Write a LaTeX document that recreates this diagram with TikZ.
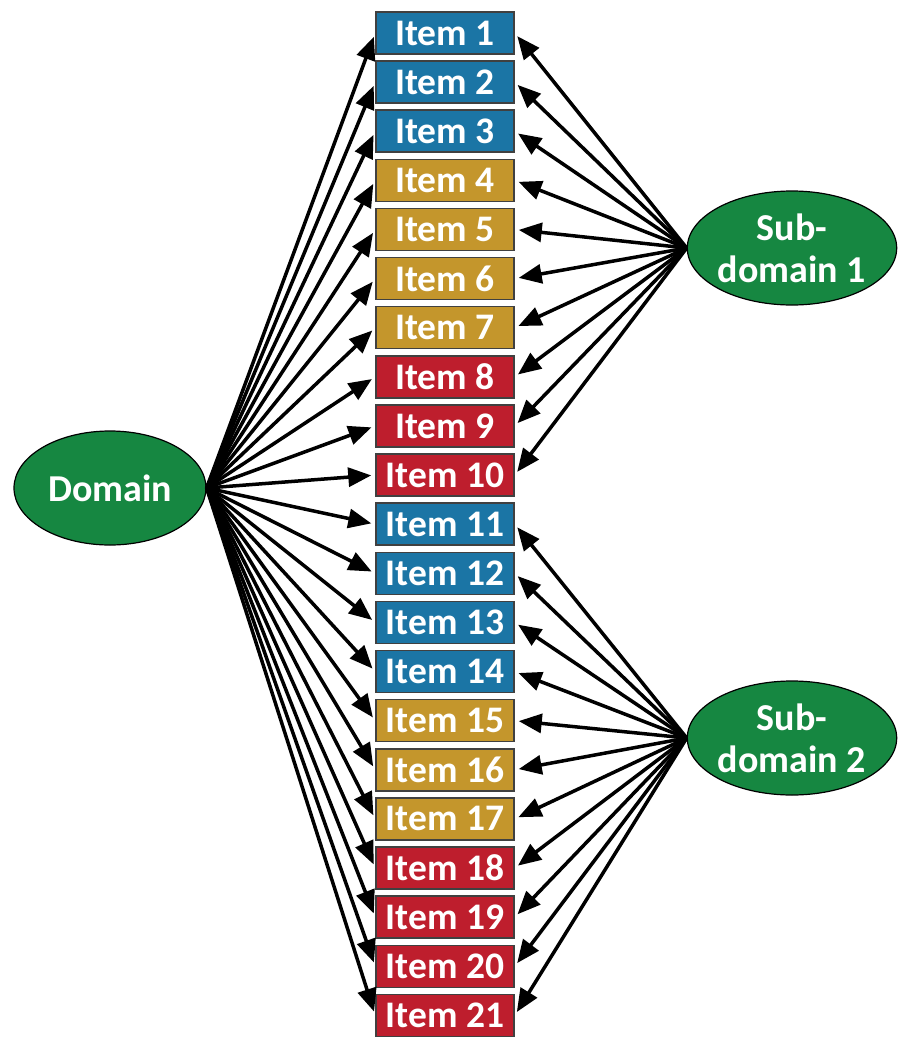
\documentclass[tikz,border=0pt]{standalone}
\usepackage{fontspec}
\setmainfont{Carlito}
\usetikzlibrary{shapes.geometric,arrows.meta}
\definecolor{itblue}{RGB}{27,117,165}
\definecolor{itgold}{RGB}{196,150,44}
\definecolor{itred}{RGB}{190,30,45}
\definecolor{dgreen}{RGB}{22,135,65}
\begin{document}
\begin{tikzpicture}[x=1pt,y=-1pt,
  itembox/.style={draw=black!75,line width=1.5pt,minimum width=138pt,minimum height=42pt,inner sep=0pt,text=white,font=\fontsize{37.5}{40}\selectfont\bfseries},
  dom/.style={ellipse,draw=black,line width=1.2pt,fill=dgreen,minimum width=192pt,minimum height=114pt,inner sep=0pt,text=white,align=center,font=\fontsize{38}{42}\selectfont\bfseries},
  arr/.style={line width=3.5pt,-{Triangle[length=23pt,width=19pt]},shorten >=4pt}]
\useasboundingbox (0,0) rectangle (905,1050);
\foreach \i/\c in {1/itblue,2/itblue,3/itblue,4/itgold,5/itgold,6/itgold,7/itgold,8/itred,9/itred,10/itred,11/itblue,12/itblue,13/itblue,14/itblue,15/itgold,16/itgold,17/itgold,18/itred,19/itred,20/itred,21/itred}{
  \node[itembox,fill=\c] (it\i) at (445,{33+(\i-1)*49.12}) {Item \i};
}
\node[dom] (domain) at (110,488) {Domain};
\node[dom] (sub1) at (792,248) {Sub-\\domain 1};
\node[dom] (sub2) at (792,738) {Sub-\\domain 2};
\foreach \i in {1,...,21}{
  \draw[arr] (domain.east) -- (it\i.west);
}
\foreach \i in {1,...,10}{
  \draw[arr] (sub1.west) -- (it\i.east);
}
\foreach \i in {11,...,21}{
  \draw[arr] (sub2.west) -- (it\i.east);
}
\end{tikzpicture}
\end{document}
